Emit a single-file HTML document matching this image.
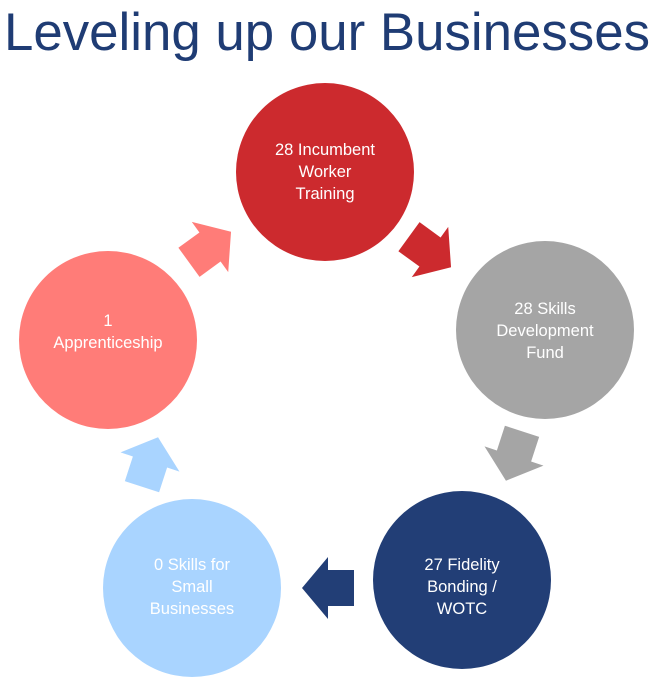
<!DOCTYPE html>
<html><head><style>
body{margin:0;width:657px;height:682px;background:#fff;overflow:hidden}
</style></head><body>
<svg width="657" height="682" xmlns="http://www.w3.org/2000/svg" font-family="Liberation Sans, sans-serif">
<text x="4" y="50" font-size="53" fill="#1F3C74" textLength="646" lengthAdjust="spacingAndGlyphs">Leveling up our Businesses</text>
<defs><polygon id="a" points="-26,-18 0,-18 0,-31 26,0 0,31 0,18 -26,18"/></defs>
<circle cx="325" cy="172" r="89" fill="#CC2A2E"/>
<circle cx="545" cy="330" r="89" fill="#A5A5A5"/>
<circle cx="462" cy="580" r="89" fill="#223E76"/>
<circle cx="192" cy="588" r="89" fill="#A9D4FF"/>
<circle cx="108" cy="340" r="89" fill="#FF7C78"/>
<use href="#a" fill="#CC2A2E" transform="translate(430,252) rotate(36)"/>
<use href="#a" fill="#A5A5A5" transform="translate(514,456) rotate(108)"/>
<use href="#a" fill="#223E76" transform="translate(328,588) rotate(180)"/>
<use href="#a" fill="#A9D4FF" transform="translate(150,462) rotate(-72)"/>
<use href="#a" fill="#FF7C78" transform="translate(210,247) rotate(-36)"/>
<g fill="#fff" font-size="16.5" text-anchor="middle">
<text x="325" y="155">28 Incumbent</text><text x="325" y="177">Worker</text><text x="325" y="199">Training</text>
<text x="545" y="314">28 Skills</text><text x="545" y="336">Development</text><text x="545" y="358">Fund</text>
<text x="462" y="570">27 Fidelity</text><text x="462" y="592">Bonding /</text><text x="462" y="614">WOTC</text>
<text x="192" y="570">0 Skills for</text><text x="192" y="592">Small</text><text x="192" y="614">Businesses</text>
<text x="108" y="326">1</text><text x="108" y="348">Apprenticeship</text>
</g>
</svg>
</body></html>
